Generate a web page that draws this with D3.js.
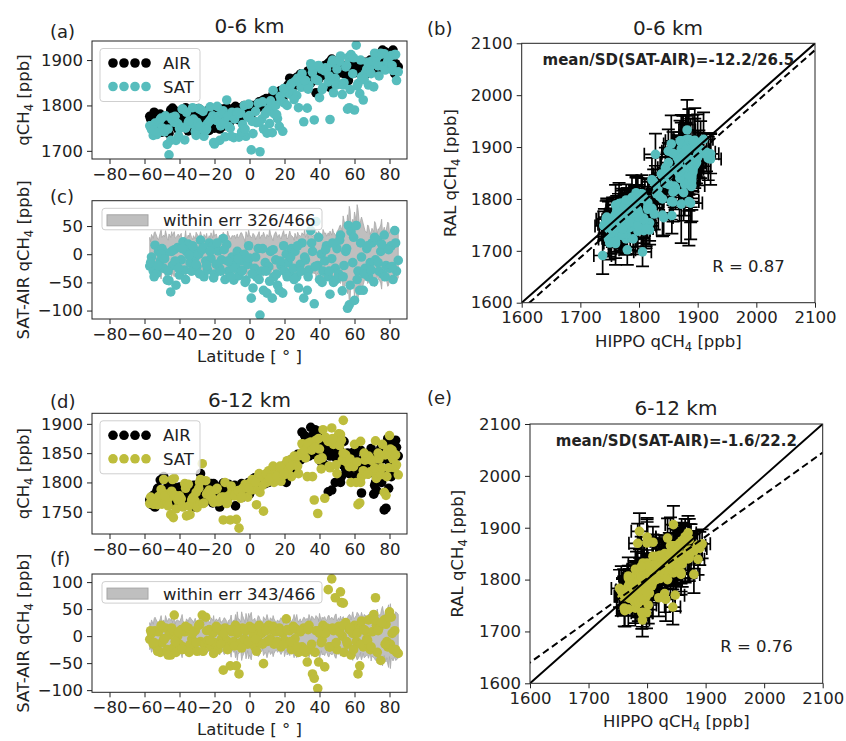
<!DOCTYPE html>
<html>
<head>
<meta charset="utf-8">
<script src="https://cdnjs.cloudflare.com/ajax/libs/d3/7.8.5/d3.min.js"></script>
<style>
  body { margin: 0; background: #fff; }
  text { font-family: "DejaVu Sans", sans-serif; fill: #222; }
</style>
</head>
<body>
<script>
// ---------- 0-6 km ----------
const lat06 = [-57,-56,-55,-54,-53,-52,-51,-50,-49,-48,-47,-46,-45,-44,-43,-42,-41,-40,-39,-38,
  -37,-36,-35,-34,-33,-32,-31,-30,-29,-28,-27,-26,-25,-24,-23,-22,-21,-20,-19,-18,-17,-16,-15,-14,-13,-12,-11,-10,
  -9,-8,-7,-6,-5,-4,-3,-2,-1,0,1,2,3,4,5,6,7,8,9,10,
  11,12,13,14,15,16,17,18,19,20,21,22,23,24,25,26,27,28,29,30,
  31,32,33,34,35,36,37,38,39,40,41,42,43,44,45,46,47,48,49,50,
  51,52,53,54,55,56,56.5,57,58,59,60,61,62,63,64,65,
  66,67,68,69,70,71,72,73,74,75,76,77,78,79,80,81,82,83,84,85,
  -56.5,-54.5,-52.5,-50.5,-48.5,-46.5,-44.5,-42.5,-40.5,-38.5,-36.5,-34.5,-32.5,-30.5,-28.5,-26.5,-24.5,-22.5,
  -20.5,-18.5,-16.5,-14.5,-12.5,-10.5,-8.5,-6.5,-4.5,-2.5,-0.5,1.5,3.5,5.5,7.5,9.5,11.5,13.5,15.5,17.5,19.5,21.5,
  23.5,25.5,27.5,29.5,31.5,33.5,35.5,37.5,39.5,41.5,43.5,45.5,47.5,49.5,51.5,53.5,55.5,57.5,59.5,61.5,63.5,65.5,
  67.5,69.5,71.5,73.5,75.5,77.5,79.5,81.5,83.5]
const air06 = [1776,1752,1764,1745,1770,1758,1781,1741,1768,1775,1760,1738,1790,1794,1755,1778,1748,1786,1762,1770,
  1752,1780,1744,1775,1790,1760,1748,1785,1793,1766,1740,1772,1757,1788,1745,1778,1762,1750,1785,1770,1748,1792,1760,1776,1795,1784,1765,1790,
  1775,1798,1780,1768,1795,1786,1800,1778,1792,1785,1780,1798,1790,1802,1795,1806,1800,1812,1796,1808,
  1815,1805,1818,1822,1810,1826,1818,1830,1812,1835,1828,1845,1860,1838,1852,1848,1862,1855,1868,1850,
  1842,1865,1858,1872,1850,1868,1856,1828,1875,1862,1880,1870,1888,1865,1892,1840,1902,1878,1885,1870,
  1882,1875,1889,1870,1880,1888,1855,1885,1872,1885,1872,1882,1878,1890,1868,1876,
  1895,1870,1885,1900,1878,1890,1905,1882,1895,1910,1922,1880,1900,1888,1915,1895,1922,1870,1885,1885,
  1770,1785,1760,1772,1750,1778,1765,1788,1758,1782,1795,1768,1780,1752,1790,1775,1768,1792,
  1760,1778,1785,1755,1788,1772,1795,1790,1772,1798,1788,1800,1792,1808,1798,1815,1808,1825,1815,1832,1822,1840,
  1850,1858,1845,1870,1860,1876,1866,1880,1858,1885,1875,1895,1880,1890,1872,1885,1878,1890,1875,1888,1880,1892,
  1880,1898,1885,1902,1895,1918,1900,1910,1892]
// SAT-AIR difference
const dif06 = [-21,-5,-30,16,-34,5,-12,10,-25,2,-46,-47,-67,-20,8,-55,12,-37,-10,22,
  -28,5,18,-15,-30,10,-5,-22,0,25,8,-40,-12,-28,20,-8,15,-35,-18,6,-25,-10,28,-45,17,-30,-15,-5,
  -46,-20,5,-38,-12,-28,0,-46,-18,-7,-78,-60,-25,-40,10,-108,-30,-64,-15,-69,
  -22,5,-78,-40,-10,-55,-64,-20,-69,-30,0,-15,-35,10,-25,5,-40,-60,-18,20,
  -78,-10,-64,-28,42,5,-88,58,-20,-45,0,-30,-12,15,-40,-71,-8,-50,-25,10,
  -35,34,-65,-20,5,-96,51,-90,40,-15,-82,51,-30,-64,-5,-64,
  -25,10,-40,-15,20,-49,-10,25,-30,5,-35,34,-20,10,-25,15,-45,42,-30,-11,
  -15,-40,-20,0,-8,-30,5,-12,-25,10,-45,-2,15,-18,-35,12,-20,5,
  -42,20,-30,8,-12,-40,-25,-8,-30,-50,15,-35,-5,-45,10,-30,-48,8,-35,-12,15,-40,
  -5,-45,15,-30,-5,-40,20,-22,30,-50,8,-30,20,-45,25,-40,10,-55,30,-45,20,-35,
  15,-28,30,-15,18,-40,8,-22,20]
const errSat06 = [30,35,28,40,32,26,38,30,34,42,28,36,30,33,40,29,35,31,37,28,
  30,26,34,38,29,33,27,36,31,40,28,35,30,26,33,38,29,32,36,27,34,30,39,28,31,35,29,33,
  32,28,36,30,38,34,27,40,31,35,29,37,33,30,36,28,34,39,30,35,
  31,36,28,34,40,30,35,27,38,32,36,29,41,33,30,37,28,35,32,38,
  34,30,38,36,42,31,35,40,33,37,29,44,36,32,38,41,34,39,35,40,
  45,52,40,60,48,70,55,85,50,62,75,58,80,47,66,54,
  42,38,50,35,46,40,55,36,44,52,38,48,41,57,37,45,50,39,46,42,
  22,38,27,44,31,25,40,29,35,20,42,30,26,39,33,24,37,28,
  45,30,23,36,41,27,34,29,38,22,43,31,26,40,33,28,45,24,36,30,42,27,
  35,25,39,32,44,28,37,30,41,26,38,33,45,29,50,68,45,78,55,88,60,48,
  52,40,58,45,62,42,55,38,50]
const errAir06 = [12,15,10,18,12,14,16,11,13,17,12,15,14,10,16,13,11,18,12,14,
  15,11,13,16,12,18,10,14,17,12,15,13,11,16,14,12,18,10,15,13,17,11,14,16,12,15,13,10,
  14,12,16,11,18,13,15,10,17,12,14,16,11,19,13,15,12,17,14,11,
  13,16,12,18,14,11,15,17,12,20,13,16,11,14,18,12,15,13,22,14,
  16,12,18,14,11,15,13,19,12,17,14,16,20,13,15,12,18,14,16,13,
  15,18,12,16,14,20,13,17,15,12,18,14,16,22,13,15,
  14,17,12,16,19,13,15,18,12,16,14,20,13,17,15,12,18,25,14,16,
  13,10,16,12,18,11,14,17,12,15,10,19,13,16,11,14,12,18,
  15,13,17,11,14,12,16,10,15,13,19,12,14,17,11,16,13,20,12,15,18,14,
  11,16,13,21,12,15,17,14,19,13,16,12,18,14,15,13,20,12,
  17,14,16,18,13,15,12,17,14]
const fit06 = [1.0, -13]          // slope, intercept of dashed line
const text06 = ['mean/SD(SAT-AIR)=-12.2/26.5', 'R = 0.87', 'within err 326/466']

// ---------- 6-12 km ----------
const lat612 = [-57,-56,-55,-54,-53,-52,-51,-50,-49,-48,-47,-46,-45,-44,-43.5,-43,-42,-41,-40,-39,
  -38,-37,-36,-35,-34,-33,-32,-31,-30,-29,-28,-27,-26,-25,-24,-23,-22,-21,-20,-19,-18,-17,-16,-15,-14,-13,-12,-11,-10,
  -9,-8,-7.5,-7,-6,-5,-4,-3,-2,-1,0,1,2,3,4,5,6,7,8,9,10,11,12,13,14,15,
  16,17,18,19,20,21,22,23,24,25,26,27,28,29,30,
  31,32,33,34,35,36,37,38,39,39.5,40,41,42,43,44,45,46,47,48,49,50,51,52,52.5,53,53.6,54,55,
  56,57,58,59,60,61,62,63,63.5,64,65,66,67,68,69,70,
  71,72,72.5,73,74,75,76,77,78,78.5,79,80,80.5,81,82,83,84,85,
  -56.5,-54.5,-52.5,-50.5,-48.5,-46.5,-44.5,-42.5,-40.5,-38.5,-36.5,-34.5,-32.5,-30.5,-28.5,-26.5,-24.5,-22.5,
  -20.5,-18.5,-16.5,-14.5,-12.5,-10.5,-8.5,-6.5,-4.5,-2.5,-0.5,1.5,3.5,5.5,7.5,9.5,11.5,13.5,15.5,17.5,19.5,21.5,
  23.5,25.5,27.5,29.5,31.5,33.5,35.5,37.5,39.5,41.5,43.5,45.5,47.5,49.5,51.5,53.5,55.5,57.5,59.5,61.5,63.5,65.5,
  67.5,69.5,71.5,73.5,75.5,77.5,79.5,81.5,83.5]
const air612 = [1770,1762,1778,1758,1785,1768,1804,1775,1810,1765,1790,1772,1780,1795,1762,1768,1785,1770,1792,1760,
  1778,1790,1768,1782,1761,1775,1795,1758,1785,1770,1815,1793,1780,1768,1790,1775,1798,1765,1782,1770,1792,1758,1780,1799,1785,1772,1797,1791,1778,
  1788,1760,1792,1780,1792,1785,1775,1795,1782,1790,1780,1795,1788,1808,1790,1800,1795,1805,1802,1798,1810,1800,1812,1805,1815,1808,
  1818,1810,1822,1815,1825,1800,1836,1828,1835,1820,1840,1832,1845,1838,1886,
  1850,1872,1858,1845,1894,1880,1848,1862,1844,1887,1852,1835,1870,1830,1860,1784,1845,1787,1855,1800,1840,1865,1800,1810,1838,1845,1870,1822,
  1850,1815,1835,1825,1845,1810,1832,1820,1855,1782,1840,1828,1848,1815,1843,1830,
  1780,1800,1787,1850,1825,1858,1840,1753,1756,1820,1875,1835,1872,1810,1865,1815,1860,1845,
  1765,1775,1790,1768,1782,1795,1770,1788,1765,1785,1772,1790,1768,1795,1778,1792,1770,1785,
  1798,1775,1788,1770,1792,1782,1795,1778,1798,1785,1800,1790,1805,1795,1810,1805,1815,1810,1822,1818,1828,1825,
  1838,1830,1848,1840,1880,1855,1870,1890,1865,1850,1872,1848,1860,1842,1855,1830,1845,1825,1852,1830,1815,1838,
  1822,1858,1795,1840,1800,1862,1790,1850,1872]
const dif612 = [-6,5,-15,10,-20,8,-30,-12,-5,15,-25,2,-35,10,-22,39,-30,0,-15,12,
  -20,8,-25,15,-16,-5,-20,10,-28,20,-10,39,-15,35,-8,12,-20,5,-12,18,-25,10,-5,-63,15,-8,-20,-55,8,
  -10,20,-55,5,-70,-12,15,-5,10,-15,18,-8,5,-20,-28,10,-12,5,-51,15,-10,20,-5,12,-15,8,
  -10,15,-20,5,-8,32,-15,10,-25,18,-5,12,-30,8,-20,
  15,-30,-48,20,-25,-70,-78,10,-97,-48,5,-12,20,-57,15,86,-20,106,10,71,-25,18,82,62,0,61,-30,25,
  -15,12,-35,5,20,-10,-70,-55,15,28,-20,10,-5,30,-25,8,
  40,71,20,-30,15,-45,25,30,22,-10,-20,45,-15,35,-25,10,-30,-32,
  10,-12,-28,20,-5,-35,15,-10,8,-25,18,-30,5,-12,22,-28,10,-8,
  -32,15,-15,5,-25,12,-18,8,-22,12,-10,15,-5,20,-15,10,-8,18,-12,10,-15,12,
  -10,15,-20,10,-25,12,-15,-30,10,-8,5,-20,15,-12,8,20,-10,15,-25,5,-15,12,
  -8,-20,30,10,25,-15,35,5,-25]
const errSat612 = [25,30,22,35,28,24,32,26,30,38,27,33,29,25,31,36,28,30,26,34,
  28,24,32,27,35,30,25,33,29,26,31,36,28,24,30,27,34,29,25,32,28,35,26,30,33,27,29,31,25,
  30,40,28,45,32,26,38,30,42,27,35,44,29,33,26,38,31,28,36,30,40,27,34,29,32,26,
  30,26,34,28,38,25,31,36,27,33,29,40,26,32,28,
  35,30,33,40,28,36,31,38,34,30,42,27,33,36,29,38,31,35,30,40,28,34,37,30,33,36,29,32,
  35,40,30,45,33,38,42,36,30,44,32,39,35,41,30,37,
  40,45,35,50,38,42,55,36,48,40,52,38,60,42,46,38,44,40,
  20,32,26,38,24,30,35,22,28,40,25,33,29,21,36,27,31,24,
  38,30,26,34,22,39,28,32,45,25,42,30,27,36,24,33,29,38,26,31,23,35,
  28,40,30,26,34,29,37,32,27,35,30,38,33,41,29,36,31,39,34,44,37,40,
  35,46,42,38,50,44,58,41,45]
const errAir612 = [10,12,9,14,11,13,10,15,12,9,13,11,14,10,12,16,11,13,10,12,
  12,10,14,11,13,9,15,12,10,14,11,13,16,10,12,14,11,9,13,12,15,10,14,11,13,12,10,18,12,
  11,13,10,14,12,9,15,11,13,10,12,14,11,16,10,12,13,11,14,10,12,15,11,13,10,12,
  12,14,10,13,11,15,12,10,14,11,13,16,12,10,14,
  13,11,15,12,14,10,16,12,13,11,15,12,14,10,13,15,11,14,12,16,10,13,15,11,12,14,10,13,
  12,15,11,14,13,10,16,12,14,11,13,15,12,14,10,13,
  14,12,16,11,15,13,12,14,10,16,12,20,13,15,11,14,12,16,
  11,13,10,12,14,9,12,15,11,13,10,12,14,11,13,10,15,12,
  11,14,12,10,13,11,15,12,10,14,11,13,12,14,10,13,11,15,12,10,13,14,
  11,12,15,10,13,14,11,12,16,13,10,14,12,11,15,13,12,10,14,12,13,15,
  11,14,12,16,13,18,12,14,13]
const fit612 = [0.81, 344]
const text612 = ['mean/SD(SAT-AIR)=-1.6/22.2', 'R = 0.76', 'within err 343/466']

const latTicks = [-80, -60, -40, -20, 0, 20, 40, 60, 80]
const compTicks = [1600, 1700, 1800, 1900, 2000, 2100]

const COL06 = '#57bdbd'
const COL612 = '#bebd3c'
const R = 4.8

const sat06 = air06.map((a, i) => a + dif06[i])
const sat612 = air612.map((a, i) => a + dif612[i])

const svg = d3.select('body').append('svg').attr('width', 846).attr('height', 741)
const defs = svg.append('defs')
let clipN = 0

function makeBox(x0, x1, y0, y1) { return { x0, x1, y0, y1, w: x1 - x0, h: y1 - y0 } }

const boxA = makeBox(92, 407, 41, 159)
const boxC = makeBox(92, 407, 200.7, 319)
const boxD = makeBox(92, 407, 413.3, 534)
const boxF = makeBox(92, 407, 574, 692.3)
const boxB = makeBox(521.7, 815, 43.3, 302.7)
const boxE = makeBox(530, 822.7, 424, 683.3)

function clipFor(box) {
  const id = 'clip' + (clipN++)
  defs.append('clipPath').attr('id', id).append('rect')
    .attr('x', box.x0).attr('y', box.y0).attr('width', box.w).attr('height', box.h)
  return `url(#${id})`
}

function axes(box, x, y, xt, yt) {
  const g = svg.append('g')
  const fmt = d3.format('d')
  g.append('g').attr('transform', `translate(0,${box.y1})`)
    .call(d3.axisBottom(x).tickValues(xt).tickFormat(fmt).tickSize(5).tickPadding(4))
  g.append('g').attr('transform', `translate(${box.x0},0)`)
    .call(d3.axisLeft(y).tickValues(yt).tickFormat(fmt).tickSize(5).tickPadding(4))
  g.selectAll('.domain').remove()
  g.selectAll('g').attr('font-family', null).attr('font-size', null)
  g.selectAll('.tick text').attr('font-size', 16.5).attr('fill', '#222')
  g.selectAll('.tick line').attr('stroke', '#222')
  g.append('rect').attr('x', box.x0).attr('y', box.y0).attr('width', box.w).attr('height', box.h)
    .attr('fill', 'none').attr('stroke', '#222').attr('stroke-width', 1)
}

function yLabel(x, cy, pre, post) {
  const t = svg.append('text').attr('transform', `translate(${x},${cy}) rotate(-90)`)
    .attr('text-anchor', 'middle').attr('font-size', 16.5)
  t.append('tspan').text(pre + 'qCH')
  t.append('tspan').attr('dy', 4).attr('font-size', 11.5).text('4')
  t.append('tspan').attr('dy', -4).text(post)
}

function xLabelHippo(box) {
  const t = svg.append('text').attr('x', (box.x0 + box.x1) / 2).attr('y', box.y1 + 44)
    .attr('text-anchor', 'middle').attr('font-size', 16.5)
  t.append('tspan').text('HIPPO qCH')
  t.append('tspan').attr('dy', 4).attr('font-size', 11.5).text('4')
  t.append('tspan').attr('dy', -4).text(' [ppb]')
}

function plainText(x, y, s, size, anchor, weight) {
  return svg.append('text').attr('x', x).attr('y', y).attr('font-size', size)
    .attr('text-anchor', anchor || 'start').attr('font-weight', weight || 'normal').text(s)
}

function legendBox(x, y, w, h) {
  svg.append('rect').attr('x', x).attr('y', y).attr('width', w).attr('height', h).attr('rx', 3)
    .attr('fill', '#fff').attr('fill-opacity', 0.8).attr('stroke', '#cfcfcf').attr('stroke-width', 1)
}

function drawLatPanel(box, yDomain, yTicks, lat, air, sat, color) {
  const x = d3.scaleLinear().domain([-90, 90]).range([box.x0, box.x1])
  const y = d3.scaleLinear().domain(yDomain).range([box.y1, box.y0])
  const g = svg.append('g').attr('clip-path', clipFor(box))
  g.selectAll('circle.air').data(lat).join('circle').attr('class', 'air')
    .attr('cx', d => x(d)).attr('cy', (d, i) => y(air[i])).attr('r', R).attr('fill', '#000')
  g.selectAll('circle.sat').data(lat).join('circle').attr('class', 'sat')
    .attr('cx', d => x(d)).attr('cy', (d, i) => y(sat[i])).attr('r', R).attr('fill', color)
  axes(box, x, y, latTicks, yTicks)

  // legend
  const lx = box.x0 + 8, ly = box.y0 + 7.5
  legendBox(lx, ly, 100, 53)
  const dots = [0, 1, 2, 3]
  svg.append('g').selectAll('circle').data(dots).join('circle')
    .attr('cx', d => lx + 13 + d * 11).attr('cy', ly + 14.5).attr('r', R).attr('fill', '#000')
  svg.append('g').selectAll('circle').data(dots).join('circle')
    .attr('cx', d => lx + 13 + d * 11).attr('cy', ly + 38).attr('r', R).attr('fill', color)
  plainText(lx + 63, ly + 20.5, 'AIR', 16.5)
  plainText(lx + 63, ly + 44, 'SAT', 16.5)
}

function drawDiffPanel(box, yDomain, yTicks, lat, dif, err, color, label) {
  const x = d3.scaleLinear().domain([-90, 90]).range([box.x0, box.x1])
  const y = d3.scaleLinear().domain(yDomain).range([box.y1, box.y0])
  const g = svg.append('g').attr('clip-path', clipFor(box))
  // band follows latitude order
  const order = d3.range(lat.length).sort((a, b) => lat[a] - lat[b])
  const area = d3.area().x(i => x(lat[i])).y0(i => y(-err[i])).y1(i => y(err[i]))
  g.append('path').attr('d', area(order)).attr('fill', '#bfbfbf')
    .attr('stroke', '#a8a8a8').attr('stroke-width', 0.8)
  g.selectAll('circle').data(lat).join('circle')
    .attr('cx', d => x(d)).attr('cy', (d, i) => y(dif[i])).attr('r', R).attr('fill', color)
  axes(box, x, y, latTicks, yTicks)

  const lx = box.x0 + 10, ly = box.y0 + 7.6
  legendBox(lx, ly, 220, 21.5)
  svg.append('rect').attr('x', lx + 5).attr('y', ly + 6.5).attr('width', 41).attr('height', 11)
    .attr('fill', '#bfbfbf').attr('stroke', '#a6a6a6').attr('stroke-width', 1)
  plainText(lx + 61, ly + 18, label, 16.5)
}

function drawCompPanel(box, air, sat, errA, errS, color, fit, texts) {
  const x = d3.scaleLinear().domain([1600, 2100]).range([box.x0, box.x1])
  const y = d3.scaleLinear().domain([1600, 2100]).range([box.y1, box.y0])
  const g = svg.append('g').attr('clip-path', clipFor(box))
  const cap = 6.5
  const eb = g.append('g').attr('stroke', '#000').attr('stroke-width', 1.7).attr('fill', 'none')
  air.forEach((a, i) => {
    const cx = x(a), cy = y(sat[i])
    const yt = y(sat[i] + errS[i]), yb = y(sat[i] - errS[i])
    const xl = x(a - errA[i]), xr = x(a + errA[i])
    eb.append('path').attr('d',
      `M${cx},${yt}V${yb}M${cx - cap},${yt}H${cx + cap}M${cx - cap},${yb}H${cx + cap}` +
      `M${xl},${cy}H${xr}M${xl},${cy - cap}V${cy + cap}M${xr},${cy - cap}V${cy + cap}`)
  })
  g.selectAll('circle').data(air).join('circle')
    .attr('cx', d => x(d)).attr('cy', (d, i) => y(sat[i])).attr('r', R).attr('fill', color)
  const line = d3.line().x(d => x(d[0])).y(d => y(d[1]))
  g.append('path').attr('d', line([[1600, 1600], [2100, 2100]]))
    .attr('stroke', '#000').attr('stroke-width', 2).attr('fill', 'none')
  g.append('path').attr('d', line([[1500, fit[0] * 1500 + fit[1]], [2100, fit[0] * 2100 + fit[1]]]))
    .attr('stroke', '#000').attr('stroke-width', 2).attr('fill', 'none').attr('stroke-dasharray', '7,4')
  axes(box, x, y, compTicks, compTicks)
  plainText((box.x0 + box.x1) / 2, box.y0 + 22, texts[0], 15, 'middle', 'bold')
  plainText(box.x0 + 0.65 * box.w, box.y0 + 0.88 * box.h, texts[1], 16.5)
  xLabelHippo(box)
}

// --- top half: 0-6 km ---
drawLatPanel(boxA, [1682, 1942], [1700, 1800, 1900], lat06, air06, sat06, COL06)
drawDiffPanel(boxC, [-115, 95], [-100, -50, 0, 50], lat06, dif06, errSat06, COL06, text06[2])
drawCompPanel(boxB, air06, sat06, errAir06, errSat06, COL06, fit06, text06)

// --- bottom half: 6-12 km ---
drawLatPanel(boxD, [1712, 1918], [1750, 1800, 1850, 1900], lat612, air612, sat612, COL612)
drawDiffPanel(boxF, [-104, 115], [-100, -50, 0, 50, 100], lat612, dif612, errSat612, COL612, text612[2])
drawCompPanel(boxE, air612, sat612, errAir612, errSat612, COL612, fit612, text612)

// titles
plainText(249.5, 33, '0-6 km', 20, 'middle')
plainText(668, 35, '0-6 km', 20, 'middle')
plainText(249.5, 406.5, '6-12 km', 20, 'middle')
plainText(676, 415, '6-12 km', 20, 'middle')

// panel letters
plainText(50, 38, '(a)', 18)
plainText(50, 203, '(c)', 18)
plainText(427, 35, '(b)', 18)
plainText(50, 408, '(d)', 18)
plainText(50, 565, '(f)', 18)
plainText(427, 404, '(e)', 18)

// axis labels
yLabel(29, (boxA.y0 + boxA.y1) / 2, '', ' [ppb]')
yLabel(29, (boxC.y0 + boxC.y1) / 2, 'SAT-AIR ', ' [ppb]')
yLabel(29, (boxD.y0 + boxD.y1) / 2, '', ' [ppb]')
yLabel(29, (boxF.y0 + boxF.y1) / 2, 'SAT-AIR ', ' [ppb]')
yLabel(456, (boxB.y0 + boxB.y1) / 2, 'RAL ', ' [ppb]')
yLabel(463, (boxE.y0 + boxE.y1) / 2, 'RAL ', ' [ppb]')
plainText(249.5, boxC.y1 + 43, 'Latitude [ \u00b0 ]', 16.5, 'middle')
plainText(249.5, boxF.y1 + 43, 'Latitude [ \u00b0 ]', 16.5, 'middle')
</script>
</body>
</html>
